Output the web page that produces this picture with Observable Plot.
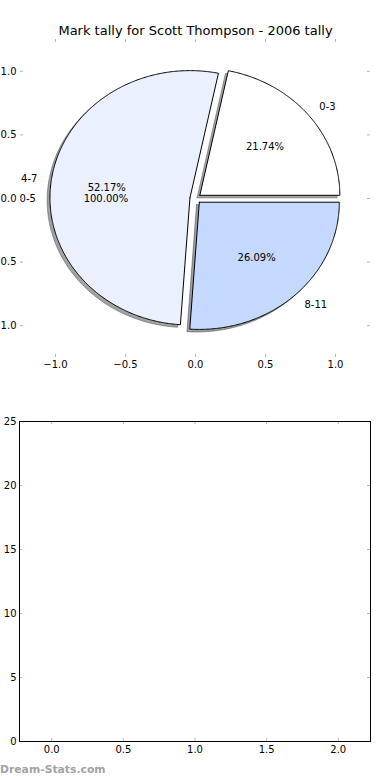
<!DOCTYPE html>
<html><head><meta charset="utf-8">
<script src="https://cdn.jsdelivr.net/npm/d3@7"></script>
<script src="https://cdn.jsdelivr.net/npm/@observablehq/plot@0.6"></script>
<style>
html,body{margin:0;padding:0;background:#fff}
body{width:390px;height:780px;position:relative;overflow:hidden;font-family:"DejaVu Sans",sans-serif}
#wm{position:absolute;left:0;top:763px;font-size:10.8px;font-weight:bold;color:#a3a3a3;font-family:"DejaVu Sans",sans-serif;white-space:nowrap}
</style></head><body>
<div id="top"></div><div id="bottom"></div><div id="wm">Dream-Stats.com</div>
<script>
// ---- data ----
const chartTitle = "Mark tally for Scott Thompson - 2006 tally";
const categories = ["0-3", "4-7", "8-11"];
const tallies = [5, 12, 6];
const sliceColors = ["#ffffff", "#eaf0fd", "#c5d8fd"];
const overlayCategories = ["0-5"];
const overlayTallies = [1];
const pieTicks = [-1, -0.5, 0, 0.5, 1];
const barXTicks = [0, 0.5, 1, 1.5, 2];
const barYTicks = [0, 5, 10, 15, 20, 25];

// ---- pie geometry (matplotlib-like: start at 0°, counter-clockwise, explode, shadow) ----
const explode = 0.04, labelDist = 1.1, pctDist = 0.6;
const fmtPct = d3.format(".2f");
function buildPie(labels, values) {
  const total = d3.sum(values);
  let a = 0;
  return values.map((v, i) => {
    const frac = v / total;
    const a1 = a, a2 = a + frac * 360;
    a = a2;
    const mid = (a1 + a2) / 2 * Math.PI / 180;
    const cx = explode * Math.cos(mid), cy = explode * Math.sin(mid);
    const pts = [{x: cx, y: cy}];
    const n = Math.max(2, Math.ceil((a2 - a1) / 0.5));
    for (let k = 0; k <= n; k++) {
      const t = (a1 + (a2 - a1) * k / n) * Math.PI / 180;
      pts.push({x: cx + Math.cos(t), y: cy + Math.sin(t)});
    }
    pts.push({x: cx, y: cy});
    return {
      label: labels[i], pct: fmtPct(frac * 100) + "%", pts,
      lx: cx + labelDist * Math.cos(mid), ly: cy + labelDist * Math.sin(mid),
      px: cx + pctDist * Math.cos(mid), py: cy + pctDist * Math.sin(mid)
    };
  });
}
const pie = buildPie(categories, tallies);
const overlay = buildPie(overlayCategories, overlayTallies);
const labelsAll = [...pie, ...overlay];

function shadowColor(c) {
  const r = d3.rgb(c);
  return d3.rgb(r.r * 0.3, r.g * 0.3, r.b * 0.3).formatHex();
}

const tickGray = "#b4b4b4";
const baseStyle = {fontFamily: "DejaVu Sans, sans-serif", fontSize: "10px", background: "white", color: "black", overflow: "visible"};

// ---- top: pie ----
const W = 390, H1 = 390, mt1 = 39, mb1 = 33, ml1 = 20, mr1 = 20;
const fh1 = H1 - mt1 - mb1, fw1 = W - ml1 - mr1;
const f1 = d3.format(".1f");
const topMarks = [];
pie.forEach((w, i) => {
  const sc = shadowColor(sliceColors[i]);
  topMarks.push(Plot.line(w.pts, {x: d => d.x - 0.02, y: d => d.y - 0.02, fill: sc, fillOpacity: 0.5, stroke: sc, strokeOpacity: 0.5, strokeWidth: 1}));
});
pie.forEach((w, i) => {
  topMarks.push(Plot.line(w.pts, {x: "x", y: "y", fill: sliceColors[i], stroke: "black", strokeWidth: 1}));
});
topMarks.push(
  Plot.text(labelsAll.filter(d => d.lx > 0), {x: "lx", y: "ly", text: "label", textAnchor: "start", fontSize: 10}),
  Plot.text(labelsAll.filter(d => d.lx <= 0), {x: "lx", y: "ly", text: "label", textAnchor: "end", fontSize: 10}),
  Plot.text(labelsAll, {x: "px", y: "py", text: "pct", textAnchor: "middle", fontSize: 10}),
  Plot.tickX(pieTicks, {x: d => d, stroke: tickGray, insetTop: fh1 - 3}),
  Plot.tickX(pieTicks, {x: d => d, stroke: tickGray, insetBottom: fh1 - 3}),
  Plot.tickY(pieTicks, {y: d => d, stroke: tickGray, insetRight: fw1 - 3}),
  Plot.tickY(pieTicks, {y: d => d, stroke: tickGray, insetLeft: fw1 - 3}),
  Plot.axisX(pieTicks, {anchor: "bottom", tickSize: 0, tickPadding: 3, tickFormat: f1, fontSize: 10}),
  Plot.axisY(pieTicks, {anchor: "left", tickSize: 0, tickPadding: 4, tickFormat: d => f1(Math.abs(d)), fontSize: 10}),
  Plot.text([chartTitle], {frameAnchor: "top", dy: -9, text: d => d, fontSize: 13, lineAnchor: "middle"})
);
const topPlot = Plot.plot({
  width: W, height: H1, marginTop: mt1, marginBottom: mb1, marginLeft: ml1, marginRight: mr1,
  x: {domain: [-1.25, 1.25], label: null},
  y: {domain: [-1.25, 1.25], label: null},
  style: baseStyle,
  marks: topMarks
});
document.getElementById("top").appendChild(topPlot);

// ---- bottom: empty bar axes ----
const H2 = 390, mt2 = 31, mb2 = 39, ml2 = 19, mr2 = 20;
const fh2 = H2 - mt2 - mb2, fw2 = W - ml2 - mr2;
const bottomPlot = Plot.plot({
  width: W, height: H2, marginTop: mt2, marginBottom: mb2, marginLeft: ml2, marginRight: mr2,
  x: {domain: [-0.225, 2.225], label: null},
  y: {domain: [0, 25], label: null},
  style: baseStyle,
  marks: [
    Plot.tickX(barXTicks, {x: d => d, stroke: tickGray, insetTop: fh2 - 3}),
    Plot.tickX(barXTicks, {x: d => d, stroke: tickGray, insetBottom: fh2 - 3}),
    Plot.tickY(barYTicks, {y: d => d, stroke: tickGray, insetRight: fw2 - 3}),
    Plot.tickY(barYTicks, {y: d => d, stroke: tickGray, insetLeft: fw2 - 3}),
    Plot.frame({stroke: "black", strokeWidth: 1}),
    Plot.axisX(barXTicks, {anchor: "bottom", tickSize: 0, tickPadding: 4, tickFormat: f1, fontSize: 10}),
    Plot.axisY(barYTicks, {anchor: "left", tickSize: 0, tickPadding: 3, tickFormat: d3.format("d"), fontSize: 10})
  ]
});
document.getElementById("bottom").appendChild(bottomPlot);
</script>
</body></html>
